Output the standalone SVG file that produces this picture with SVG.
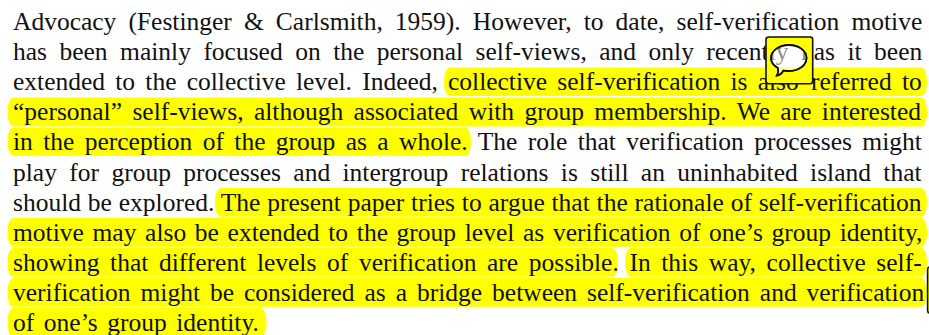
<svg xmlns="http://www.w3.org/2000/svg" width="929" height="335" viewBox="0 0 929 335">
<style>
.hl{fill:#ffff00}
.t{font-family:"Liberation Serif","Times New Roman",serif;font-size:25.5px;fill:#111;font-variant-ligatures:none}
.box{fill:#ffff00;stroke:#111;stroke-width:1.6}
</style>
<rect width="929" height="335" fill="#fff"/>
<g id="highlights">
<rect class="hl" x="444" y="67.5" width="483" height="28.5" rx="6" ry="13"/>
<rect class="hl" x="7.5" y="97.5" width="919.5" height="29" rx="6" ry="13"/>
<rect class="hl" x="7.5" y="127.7" width="463.5" height="28" rx="6" ry="13"/>
<rect class="hl" x="215" y="188" width="712" height="28.7" rx="6" ry="13"/>
<rect class="hl" x="7.5" y="218" width="919.5" height="28.7" rx="6" ry="13"/>
<rect class="hl" x="7.5" y="248" width="610.5" height="28.7" rx="6" ry="13"/>
<rect class="hl" x="625" y="248" width="302" height="28.7" rx="6" ry="13"/>
<rect class="hl" x="7.5" y="278" width="919.5" height="28.7" rx="6" ry="13"/>
<rect class="hl" x="7.5" y="308" width="259" height="29" rx="6" ry="13"/>
</g>
<g id="text">
<text class="t" x="13" y="30" word-spacing="5.7">Advocacy (Festinger &amp; Carlsmith, 1959). However, to date, self-verification motive</text>
<text class="t" x="13" y="60" word-spacing="6.1">has been mainly focused on the personal self-views, and only recently has it been</text>
<text class="t" x="13" y="90.2" word-spacing="3.85"><tspan>extended to the collective level. Indeed, </tspan><tspan x="448">collective self-verification is also </tspan><tspan x="811">referred to</tspan></text>
<text class="t" x="13" y="120.3" word-spacing="4">“personal” self-views, although associated with group membership. We are interested</text>
<text class="t" x="13" y="150.4" word-spacing="4">in the perception of the group as a whole. The role that verification processes might</text>
<text class="t" x="13" y="180.5" word-spacing="6">play for group processes and intergroup relations is still an uninhabited island that</text>
<text class="t" x="13" y="210.6" word-spacing="0.46">should be explored. The present paper tries to argue that the rationale of self-verification</text>
<text class="t" x="13" y="240.7" word-spacing="2.3">motive may also be extended to the group level as verification of one’s group identity,</text>
<text class="t" x="13" y="270.8" word-spacing="4.26">showing that different levels of verification are possible. In this way, collective self-</text>
<text class="t" x="13" y="300.8" word-spacing="3.6">verification might be considered as a bridge between self-verification and verification</text>
<text class="t" x="13" y="330.8" word-spacing="3.2">of one’s group identity.</text>
</g>
<g id="note-icon">
<path class="box" fill-rule="evenodd" d="M769 37H810Q812.7 37 812.7 39.5V81Q812.7 83.7 810 83.7H769Q766 83.7 766 81V39.5Q766 37 769 37ZM789 45C799 45 806.5 51 806.5 58C806.5 65 799 71 789 71C787 71 785 71 783.5 70.5C782 73 780 75 777 75.5C778.5 73 778.5 70.5 778 68C773.5 65.5 771 62 771 58C771 51 779 45 789 45Z"/>
<path d="M789 45C799 45 806.5 51 806.5 58C806.5 65 799 71 789 71C787 71 785 71 783.5 70.5C782 73 780 75 777 75.5C778.5 73 778.5 70.5 778 68C773.5 65.5 771 62 771 58C771 51 779 45 789 45Z" fill="#fff" fill-opacity="0.5" stroke="#111" stroke-width="1.8"/>
</g>
<g id="note-icon-edge">
<rect class="box" x="927.6" y="267" width="20" height="46" rx="2.5"/>
</g>
</svg>
